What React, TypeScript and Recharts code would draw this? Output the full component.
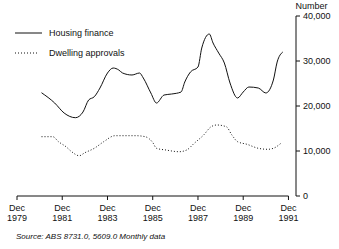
import { LineChart, Line, XAxis, YAxis, ReferenceLine, Legend } from "recharts"

// months counted from Dec 1979
const xTicks = [0, 24, 48, 72, 96, 120, 144]
const tickYears = ["1979", "1981", "1983", "1985", "1987", "1989", "1991"]
const yTicks = [0, 10000, 20000, 30000, 40000]

const housingMonths = [13, 20, 25, 31, 35, 38, 41, 44, 48, 51, 54, 56, 61, 65, 67, 71, 74, 78, 82, 87, 89, 92, 96, 98, 102, 104, 107, 110, 113, 117, 120, 123, 128, 132, 136, 138, 141]
const housingValues = [22950, 20660, 18440, 17400, 18660, 21330, 22060, 23990, 27330, 28440, 28000, 27330, 26890, 27330, 26220, 22890, 20660, 22440, 22660, 23100, 25330, 27550, 28660, 32880, 36000, 34000, 31770, 29550, 25110, 21780, 23110, 24220, 24000, 22890, 25770, 29770, 32000]

const dwellingMonths = [13, 19, 22, 26, 29, 33, 36, 41, 46, 52, 57, 63, 68, 72, 74, 79, 86, 90, 94, 99, 103, 106, 111, 114, 117, 122, 128, 133, 136, 140]
const dwellingValues = [13180, 13180, 12070, 10950, 9840, 8950, 9620, 10600, 12070, 13400, 13400, 13400, 13180, 11890, 10600, 10220, 9840, 10220, 11710, 13550, 15400, 15780, 15400, 13550, 12070, 11490, 10600, 10380, 10600, 11710]

const housingData = housingMonths.map((m, i) => ({ m, v: housingValues[i] }))
const dwellingData = dwellingMonths.map((m, i) => ({ m, v: dwellingValues[i] }))

const seriesNames = ["Housing finance", "Dwelling approvals"]
const font = "'Liberation Sans', Arial, sans-serif"

function DecTick({ x, y, payload }: any) {
  const idx = xTicks.indexOf(payload.value)
  return (
    <text x={x} y={y} textAnchor="middle" fontSize={9} fill="#111" fontFamily={font}>
      <tspan x={x} dy={9}>Dec</tspan>
      <tspan x={x} dy={10}>{tickYears[idx]}</tspan>
    </text>
  )
}

function LegendBox() {
  return (
    <div style={{ fontFamily: font, fontSize: 9, color: "#111" }}>
      {seriesNames.map((name, i) => (
        <div key={name} style={{ display: "flex", alignItems: "center", height: 20 }}>
          <svg width={34} height={6}>
            <line x1={0} x2={i === 0 ? 27 : 22} y1={3} y2={3} stroke="#111" strokeWidth={1} strokeDasharray={i === 0 ? undefined : "1 2"} />
          </svg>
          <span>{name}</span>
        </div>
      ))}
    </div>
  )
}

export default function App() {
  return (
    <div style={{ position: "fixed", left: 0, top: 0, width: 339, height: 249, background: "#fff" }}>
      <LineChart width={339} height={249} margin={{ top: 16, right: 0, left: 17, bottom: 0 }}>
        <XAxis
          dataKey="m"
          type="number"
          domain={[0, 148]}
          ticks={xTicks}
          axisLine={false}
          tickLine={{ stroke: "#111" }}
          tickSize={4}
          tickMargin={2}
          height={53}
          tick={<DecTick />}
          allowDuplicatedCategory={false}
        />
        <YAxis
          orientation="right"
          domain={[0, 40000]}
          ticks={yTicks}
          width={43}
          tickSize={4}
          tickMargin={3}
          axisLine={{ stroke: "#111" }}
          tickLine={{ stroke: "#111" }}
          tick={{ fontSize: 9, fill: "#111", fontFamily: font, textAnchor: "start" }}
          tickFormatter={(v: number) => v.toLocaleString("en-US")}
          label={{ value: "Number", position: "top", offset: 7, dx: -6, fontSize: 9, fill: "#111", fontFamily: font }}
        />
        <ReferenceLine segment={[{ x: 0, y: 0 }, { x: 144, y: 0 }]} stroke="#111" strokeWidth={1} />
        <Legend
          verticalAlign="middle"
          layout="horizontal"
          content={<LegendBox />}
          wrapperStyle={{ top: 23, left: 15, width: "auto" }}
        />
        <Line data={housingData} dataKey="v" name={seriesNames[0]} type="monotone" stroke="#111" strokeWidth={1} dot={false} isAnimationActive={false} />
        <Line data={dwellingData} dataKey="v" name={seriesNames[1]} type="monotone" stroke="#111" strokeWidth={1} strokeDasharray="1 2" dot={false} isAnimationActive={false} />
      </LineChart>
      <div style={{ position: "absolute", left: 16, top: 232, fontFamily: font, fontSize: 8, fontStyle: "italic", color: "#111" }}>
        Source: ABS 8731.0, 5609.0 Monthly data
      </div>
    </div>
  )
}
